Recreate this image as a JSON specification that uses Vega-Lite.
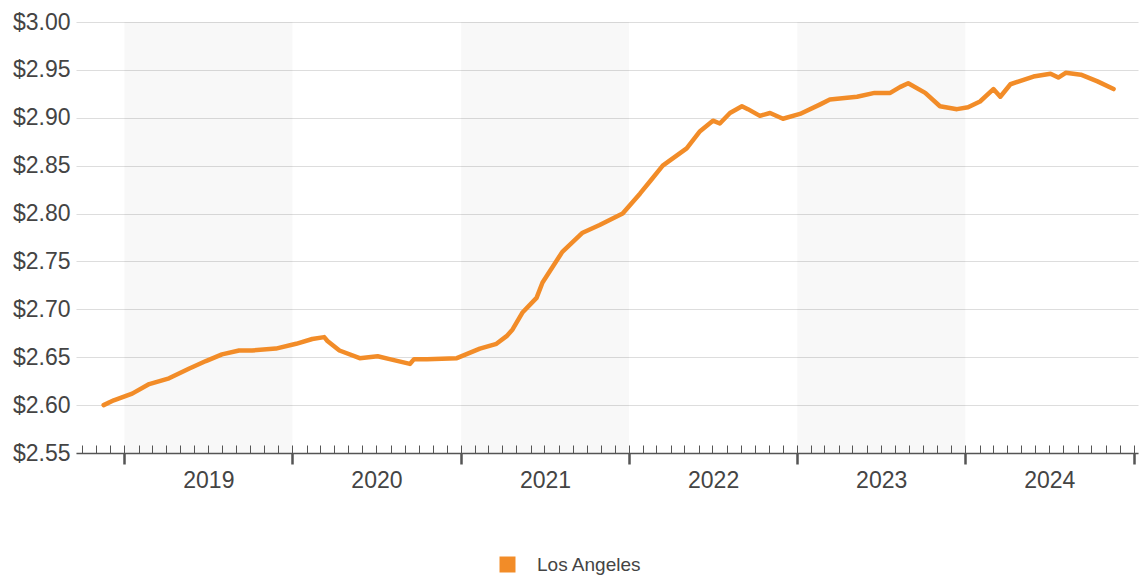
{
  "$schema": "https://vega.github.io/schema/vega-lite/v6.json",
  "width": 1062,
  "height": 431,
  "autosize": {"type": "none"},
  "padding": {"left": 76, "top": 22, "right": 2, "bottom": 123},
  "background": "white",
  "config": {
    "font": "Liberation Sans",
    "view": {"stroke": null}
  },
  "datasets": {
    "bands": [
      {"start": "2019-01-01", "end": "2020-01-01"},
      {"start": "2021-01-01", "end": "2022-01-01"},
      {"start": "2023-01-01", "end": "2024-01-01"}
    ],
    "series": [
      {"date": "2018-11-17", "price": 2.600, "city": "Los Angeles"},
      {"date": "2018-12-09", "price": 2.605, "city": "Los Angeles"},
      {"date": "2019-01-18", "price": 2.612, "city": "Los Angeles"},
      {"date": "2019-02-24", "price": 2.622, "city": "Los Angeles"},
      {"date": "2019-04-08", "price": 2.628, "city": "Los Angeles"},
      {"date": "2019-05-21", "price": 2.638, "city": "Los Angeles"},
      {"date": "2019-06-27", "price": 2.646, "city": "Los Angeles"},
      {"date": "2019-08-01", "price": 2.653, "city": "Los Angeles"},
      {"date": "2019-09-07", "price": 2.657, "city": "Los Angeles"},
      {"date": "2019-10-05", "price": 2.657, "city": "Los Angeles"},
      {"date": "2019-11-26", "price": 2.659, "city": "Los Angeles"},
      {"date": "2020-01-09", "price": 2.664, "city": "Los Angeles"},
      {"date": "2020-02-13", "price": 2.669, "city": "Los Angeles"},
      {"date": "2020-03-10", "price": 2.671, "city": "Los Angeles"},
      {"date": "2020-03-17", "price": 2.667, "city": "Los Angeles"},
      {"date": "2020-04-12", "price": 2.657, "city": "Los Angeles"},
      {"date": "2020-05-26", "price": 2.649, "city": "Los Angeles"},
      {"date": "2020-07-04", "price": 2.651, "city": "Los Angeles"},
      {"date": "2020-07-30", "price": 2.648, "city": "Los Angeles"},
      {"date": "2020-09-12", "price": 2.643, "city": "Los Angeles"},
      {"date": "2020-09-21", "price": 2.648, "city": "Los Angeles"},
      {"date": "2020-10-19", "price": 2.648, "city": "Los Angeles"},
      {"date": "2020-12-23", "price": 2.649, "city": "Los Angeles"},
      {"date": "2021-02-11", "price": 2.659, "city": "Los Angeles"},
      {"date": "2021-03-19", "price": 2.664, "city": "Los Angeles"},
      {"date": "2021-04-10", "price": 2.672, "city": "Los Angeles"},
      {"date": "2021-04-23", "price": 2.679, "city": "Los Angeles"},
      {"date": "2021-05-15", "price": 2.697, "city": "Los Angeles"},
      {"date": "2021-06-14", "price": 2.712, "city": "Los Angeles"},
      {"date": "2021-06-27", "price": 2.728, "city": "Los Angeles"},
      {"date": "2021-08-09", "price": 2.760, "city": "Los Angeles"},
      {"date": "2021-09-22", "price": 2.780, "city": "Los Angeles"},
      {"date": "2021-10-29", "price": 2.788, "city": "Los Angeles"},
      {"date": "2021-12-18", "price": 2.800, "city": "Los Angeles"},
      {"date": "2022-01-25", "price": 2.821, "city": "Los Angeles"},
      {"date": "2022-02-16", "price": 2.834, "city": "Los Angeles"},
      {"date": "2022-03-15", "price": 2.850, "city": "Los Angeles"},
      {"date": "2022-05-06", "price": 2.868, "city": "Los Angeles"},
      {"date": "2022-06-04", "price": 2.886, "city": "Los Angeles"},
      {"date": "2022-07-02", "price": 2.897, "city": "Los Angeles"},
      {"date": "2022-07-17", "price": 2.894, "city": "Los Angeles"},
      {"date": "2022-08-08", "price": 2.905, "city": "Los Angeles"},
      {"date": "2022-09-03", "price": 2.912, "city": "Los Angeles"},
      {"date": "2022-09-16", "price": 2.909, "city": "Los Angeles"},
      {"date": "2022-10-12", "price": 2.902, "city": "Los Angeles"},
      {"date": "2022-11-03", "price": 2.905, "city": "Los Angeles"},
      {"date": "2022-12-01", "price": 2.899, "city": "Los Angeles"},
      {"date": "2023-01-07", "price": 2.904, "city": "Los Angeles"},
      {"date": "2023-02-20", "price": 2.914, "city": "Los Angeles"},
      {"date": "2023-03-13", "price": 2.919, "city": "Los Angeles"},
      {"date": "2023-05-11", "price": 2.922, "city": "Los Angeles"},
      {"date": "2023-06-18", "price": 2.926, "city": "Los Angeles"},
      {"date": "2023-07-22", "price": 2.926, "city": "Los Angeles"},
      {"date": "2023-08-12", "price": 2.932, "city": "Los Angeles"},
      {"date": "2023-08-30", "price": 2.936, "city": "Los Angeles"},
      {"date": "2023-10-06", "price": 2.926, "city": "Los Angeles"},
      {"date": "2023-11-07", "price": 2.912, "city": "Los Angeles"},
      {"date": "2023-12-14", "price": 2.909, "city": "Los Angeles"},
      {"date": "2024-01-07", "price": 2.911, "city": "Los Angeles"},
      {"date": "2024-02-02", "price": 2.917, "city": "Los Angeles"},
      {"date": "2024-03-02", "price": 2.930, "city": "Los Angeles"},
      {"date": "2024-03-17", "price": 2.922, "city": "Los Angeles"},
      {"date": "2024-04-08", "price": 2.935, "city": "Los Angeles"},
      {"date": "2024-05-28", "price": 2.943, "city": "Los Angeles"},
      {"date": "2024-07-04", "price": 2.946, "city": "Los Angeles"},
      {"date": "2024-07-21", "price": 2.942, "city": "Los Angeles"},
      {"date": "2024-08-06", "price": 2.947, "city": "Los Angeles"},
      {"date": "2024-09-08", "price": 2.945, "city": "Los Angeles"},
      {"date": "2024-10-14", "price": 2.938, "city": "Los Angeles"},
      {"date": "2024-11-18", "price": 2.930, "city": "Los Angeles"}
    ]
  },
  "layer": [
    {
      "data": {"name": "bands"},
      "mark": {"type": "rect", "color": "#000000", "opacity": 0.028},
      "encoding": {
        "x": {
          "field": "start",
          "type": "temporal",
          "scale": {
            "type": "utc",
            "domain": [
              {"year": 2018, "month": 9, "date": 18, "utc": true},
              {"year": 2025, "month": 1, "date": 10, "utc": true}
            ]
          },
          "axis": {
            "orient": "bottom",
            "title": null,
            "labels": false,
            "grid": false,
            "zindex": 1,
            "tickCount": {"interval": "month", "step": 1},
            "tickSize": -8,
            "tickColor": "#555555",
            "tickWidth": 1,
            "domain": true,
            "domainColor": "#555555",
            "domainWidth": 1.5
          }
        },
        "x2": {"field": "end"}
      }
    },
    {
      "data": {"name": "series"},
      "mark": {"type": "line", "strokeWidth": 4.5, "strokeJoin": "round", "strokeCap": "round"},
      "encoding": {
        "x": {
          "field": "date",
          "type": "temporal",
          "scale": {"type": "utc"},
          "axis": {
            "orient": "bottom",
            "title": null,
            "grid": false,
            "domain": false,
            "zindex": 1,
            "values": [
              {"year": 2019, "month": 1, "date": 1, "utc": true},
              {"year": 2020, "month": 1, "date": 1, "utc": true},
              {"year": 2021, "month": 1, "date": 1, "utc": true},
              {"year": 2022, "month": 1, "date": 1, "utc": true},
              {"year": 2023, "month": 1, "date": 1, "utc": true},
              {"year": 2024, "month": 1, "date": 1, "utc": true},
              {"year": 2025, "month": 1, "date": 1, "utc": true}
            ],
            "labelExpr": "utcFormat(datum.value, '%Y') == '2025' ? '' : utcFormat(datum.value, '%Y')",
            "labelOffset": 84,
            "labelOverlap": false,
            "labelFlush": false,
            "labelFontSize": 23,
            "labelColor": "#444444",
            "labelPadding": 5,
            "tickSize": 11,
            "tickWidth": 2.5,
            "tickColor": "#555555"
          }
        },
        "y": {
          "field": "price",
          "type": "quantitative",
          "scale": {"domain": [2.55, 3.0], "nice": false, "zero": false},
          "axis": {
            "title": null,
            "values": [2.55, 2.6, 2.65, 2.7, 2.75, 2.8, 2.85, 2.9, 2.95, 3.0],
            "format": "$.2f",
            "labelFontSize": 23,
            "labelColor": "#444444",
            "labelPadding": 6,
            "ticks": false,
            "domain": false,
            "grid": true,
            "gridColor": "#dddddd",
            "gridWidth": 1
          }
        },
        "color": {
          "field": "city",
          "type": "nominal",
          "scale": {"range": ["#F28C28"]},
          "legend": {
            "title": null,
            "orient": "none",
            "legendX": 422,
            "legendY": 533,
            "padding": 0,
            "symbolType": "square",
            "symbolSize": 256,
            "symbolStrokeWidth": 0,
            "symbolFillColor": "#F28C28",
            "labelFontSize": 19,
            "labelColor": "#444444",
            "labelOffset": 20
          }
        }
      }
    }
  ],
  "resolve": {"axis": {"x": "independent"}}
}
